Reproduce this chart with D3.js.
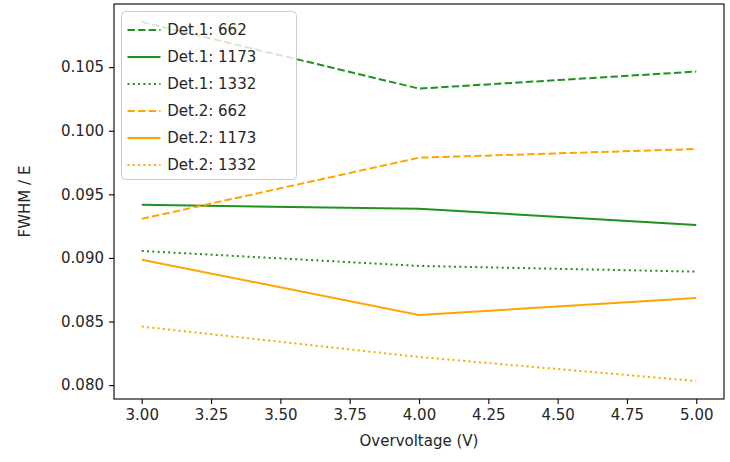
<!DOCTYPE html>
<html>
<head>
<meta charset="utf-8">
<script src="https://cdn.jsdelivr.net/npm/d3@7"></script>
<style>
  body { margin: 0; background: #fff; }
  svg { font-family: "DejaVu Sans", sans-serif; }
</style>
</head>
<body>
<div id="chart"></div>
<script>
// overvoltage values (V)
const voltages = [3, 4, 5];

// FWHM / E per detector and peak energy
const det1_662 = [0.10855, 0.10331, 0.10465];
const det1_1173 = [0.09418, 0.09386, 0.09259];
const det1_1332 = [0.09055, 0.08937, 0.08892];
const det2_662 = [0.09307, 0.09788, 0.09856];
const det2_1173 = [0.08986, 0.08552, 0.08684];
const det2_1332 = [0.08460, 0.08221, 0.08032];

const seriesNames = ['Det.1: 662', 'Det.1: 1173', 'Det.1: 1332', 'Det.2: 662', 'Det.2: 1173', 'Det.2: 1332'];
const seriesValues = [det1_662, det1_1173, det1_1332, det2_662, det2_1173, det2_1332];
const seriesColors = ['#1e921e', '#1e921e', '#1e921e', 'orange', 'orange', 'orange'];
const seriesStyles = ['dashed', 'solid', 'dotted', 'dashed', 'solid', 'dotted'];

const xTicks = [3.0, 3.25, 3.5, 3.75, 4.0, 4.25, 4.5, 4.75, 5.0];
const yTicks = [0.080, 0.085, 0.090, 0.095, 0.100, 0.105];

const width = 730;
const height = 462;
const margin = { top: 4, right: 6, bottom: 63, left: 114 };
const fontSize = 15;
const lw = 2;

const dashMap = {
  solid: null,
  dashed: `${3.7 * lw},${1.6 * lw}`,
  dotted: `${1 * lw},${1.65 * lw}`
};

const svg = d3.select('#chart')
  .append('svg')
  .attr('width', width)
  .attr('height', height);

// matplotlib-like 5% margins around the data
const xExt = d3.extent(voltages);
const xPad = (xExt[1] - xExt[0]) * 0.05;
const allVals = seriesValues.flat();
const yExt = d3.extent(allVals);
const yPad = (yExt[1] - yExt[0]) * 0.05;

const x = d3.scaleLinear()
  .domain([xExt[0] - xPad, xExt[1] + xPad])
  .range([margin.left, width - margin.right]);

const y = d3.scaleLinear()
  .domain([yExt[0] - yPad, yExt[1] + yPad])
  .range([height - margin.bottom, margin.top]);

const line = d3.line()
  .x((d, i) => x(voltages[i]))
  .y(d => y(d));

const plot = svg.append('g');
const clipId = 'plot-clip';
svg.append('defs').append('clipPath').attr('id', clipId)
  .append('rect')
  .attr('x', margin.left)
  .attr('y', margin.top)
  .attr('width', width - margin.left - margin.right)
  .attr('height', height - margin.top - margin.bottom);

plot.attr('clip-path', `url(#${clipId})`)
  .selectAll('path')
  .data(seriesValues)
  .enter().append('path')
  .attr('d', d => line(d))
  .attr('fill', 'none')
  .attr('stroke', (d, i) => seriesColors[i])
  .attr('stroke-width', lw)
  .attr('stroke-dasharray', (d, i) => dashMap[seriesStyles[i]])
  .attr('stroke-linejoin', 'round');

// axes
const xAxis = svg.append('g')
  .attr('transform', `translate(0,${height - margin.bottom})`)
  .call(d3.axisBottom(x).tickValues(xTicks).tickFormat(d3.format('.2f')).tickSizeOuter(0).tickSize(5).tickPadding(5));

const yAxis = svg.append('g')
  .attr('transform', `translate(${margin.left},0)`)
  .call(d3.axisLeft(y).tickValues(yTicks).tickFormat(d3.format('.3f')).tickSizeOuter(0).tickSize(5).tickPadding(5));

[xAxis, yAxis].forEach(a => {
  a.select('.domain').remove();
  a.selectAll('line').attr('stroke', '#000').attr('stroke-width', 1.1);
  a.selectAll('text').attr('font-size', fontSize).attr('fill', '#262626').attr('font-family', '"DejaVu Sans", sans-serif');
});

// frame
svg.append('rect')
  .attr('x', margin.left)
  .attr('y', margin.top)
  .attr('width', width - margin.left - margin.right)
  .attr('height', height - margin.top - margin.bottom)
  .attr('fill', 'none')
  .attr('stroke', '#000')
  .attr('stroke-width', 1.1);

// axis labels
svg.append('text')
  .attr('x', (margin.left + width - margin.right) / 2)
  .attr('y', height - 16)
  .attr('text-anchor', 'middle')
  .attr('font-size', fontSize)
  .attr('fill', '#262626')
  .text('Overvoltage (V)');

svg.append('text')
  .attr('transform', `translate(30,${(margin.top + height - margin.bottom) / 2}) rotate(-90)`)
  .attr('text-anchor', 'middle')
  .attr('font-size', fontSize)
  .attr('fill', '#262626')
  .text('FWHM / E');

// legend
const legX = margin.left + 0.5 * fontSize;
const legY = margin.top + 0.5 * fontSize;
const rowH = 27;
const legW = 175;
const legH = seriesNames.length * rowH + 0.4 * fontSize;

const legend = svg.append('g');
legend.append('rect')
  .attr('x', legX)
  .attr('y', legY)
  .attr('width', legW)
  .attr('height', legH)
  .attr('rx', 4)
  .attr('fill', '#fff')
  .attr('fill-opacity', 0.8)
  .attr('stroke', '#ccc')
  .attr('stroke-width', 1);

const rows = legend.selectAll('g.row')
  .data(seriesNames)
  .enter().append('g')
  .attr('class', 'row')
  .attr('transform', (d, i) => `translate(${legX + 0.4 * fontSize},${legY + 0.4 * fontSize + rowH * i + rowH / 2 - 1})`);

rows.append('line')
  .attr('x1', 0)
  .attr('x2', 2.2 * fontSize)
  .attr('stroke', (d, i) => seriesColors[i])
  .attr('stroke-width', lw)
  .attr('stroke-dasharray', (d, i) => dashMap[seriesStyles[i]]);

rows.append('text')
  .attr('x', 2.65 * fontSize)
  .attr('dy', '0.35em')
  .attr('font-size', fontSize)
  .attr('fill', '#262626')
  .text(d => d);
</script>
</body>
</html>
